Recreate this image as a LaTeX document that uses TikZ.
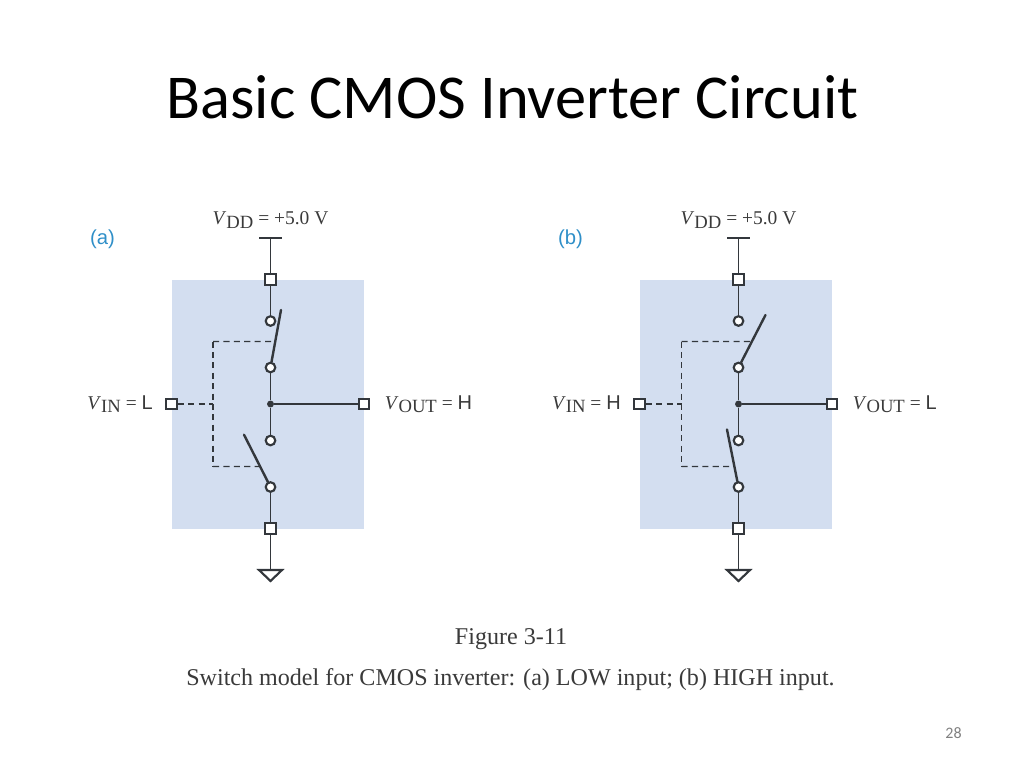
\documentclass[tikz,border=0pt]{standalone}
\usepackage{fontspec}
\setmainfont{Liberation Serif}
\newfontfamily\titlefont{Carlito}
\newfontfamily\labelsans{Liberation Sans}
\usetikzlibrary{calc}
\definecolor{panelblue}{HTML}{D3DEF0}
\definecolor{inkdark}{HTML}{33373C}
\definecolor{labelblue}{HTML}{2F8FC8}
\definecolor{textgrey}{HTML}{3A3A3A}
\tikzset{
  wire/.style={draw=inkdark,line width=1.45pt},
  blade/.style={draw=inkdark,line width=1.8pt,line cap=round},
  ctrl/.style={draw=inkdark,line width=1.05pt,dash pattern=on 4.6pt off 3.2pt},
  term/.style={draw=inkdark,fill=white,line width=1.7pt,rectangle,minimum size=7.8pt,inner sep=0pt},
  contact/.style={draw=inkdark,fill=white,line width=1.6pt,circle,minimum size=7.2pt,inner sep=0pt},
  junction/.style={fill=inkdark,circle,minimum size=5.2pt,inner sep=0pt},
  gnd/.style={draw=inkdark,fill=white,line width=1.6pt,line join=miter},
  lab/.style={text=textgrey,font=\fontsize{14.6}{16}\selectfont,inner sep=0pt},
}
\newcommand{\vsub}[2]{\textit{#1}\raisebox{-0.35ex}{\fontsize{14}{16}\selectfont #2}}
\newcommand{\panel}[9]{%
  % #1 prefix  #2 center x  #3 letter  #4 letter x  #5 Vin level #6 Vout level
  % #7 top blade tip  #8 bottom blade tip  #9 dash x
  \begin{scope}[shift={(#2,0)}]
    \fill[panelblue] (-99,279.5) rectangle (93.5,528.5);
    \node[text=labelblue,font=\labelsans\fontsize{15.2}{16}\selectfont,inner sep=0pt] (#1letter) at (#4,239.5) {(#3)};
    \node[lab,anchor=center] (#1vdd) at (0,220) {\vsub{V}{DD} = +5.0 V};
    \coordinate (#1barl) at (-11.5,238);
    \coordinate (#1barr) at (11.5,238);
    \coordinate (#1bar) at (0,238);
    \coordinate (#1gt) at (0,570);
    \coordinate (#1gl) at (-11.5,570);
    \coordinate (#1gr) at (11.5,570);
    \coordinate (#1gb) at (0,581);
    \coordinate (#1tip1) at (#7);
    \coordinate (#1tip2) at (#8);
    \coordinate (#1dk) at (#9,404);
    \coordinate (#1dt) at (#9,341.5);
    \coordinate (#1db) at (#9,466.5);
    \coordinate (#1dtr) at (60,341.5);
    \coordinate (#1dbr) at (60,466.5);
    \node[term] (#1tt) at (0,279.5) {};
    \node[term] (#1tb) at (0,528.5) {};
    \node[contact] (#1c1) at (0,321) {};
    \node[contact] (#1c2) at (0,367.5) {};
    \node[contact] (#1c3) at (0,440.5) {};
    \node[contact] (#1c4) at (0,487) {};
    \node[junction] (#1j) at (0,404) {};
    \node[term] (#1in) at (-99,404) {};
    \node[term] (#1out) at (93.5,404) {};
    \coordinate (#1bl1) at (intersection cs: first line={(#1dt)--(#1dtr)}, second line={(#1c2.center)--(#1tip1)});
    \coordinate (#1bl2) at (intersection cs: first line={(#1db)--(#1dbr)}, second line={(#1c4.center)--(#1tip2)});
    \draw[wire] (#1barl) -- (#1barr);
    \draw[wire] (#1bar) -- (#1tt);
    \draw[wire] (#1tt) -- (#1c1);
    \draw[wire] (#1c2) -- (#1j);
    \draw[wire] (#1j) -- (#1c3);
    \draw[wire] (#1c4) -- (#1tb);
    \draw[wire] (#1tb) -- (#1gt);
    \draw[wire] (#1j) -- (#1out);
    \draw[blade] (#1c2) -- (#1tip1);
    \draw[blade] (#1c4) -- (#1tip2);
    \draw[gnd] (#1gl) -- (#1gr) -- (#1gb) -- cycle;
    \draw[ctrl] (#1in) -- (#1dk);
    \draw[ctrl] (#1dt) -- (#1db);
    \draw[ctrl] (#1dt) -- (#1bl1);
    \draw[ctrl] (#1db) -- (#1bl2);
    \node[lab,anchor=east] (#1vin) at (-117.5,404.5) {\vsub{V}{IN} = {\labelsans\fontsize{15}{16}\selectfont #5}};
    \node[lab,anchor=west] (#1vout) at (114,404.5) {\vsub{V}{OUT} = {\labelsans\fontsize{15}{16}\selectfont #6}};
  \end{scope}}
\begin{document}
\begin{tikzpicture}[x=0.75pt,y=-0.75pt]
\useasboundingbox (0,0) rectangle (1024,768);
\node[font=\titlefont\fontsize{46.8}{52}\selectfont,text=black,inner sep=0pt] (title) at (512.5,97) {Basic CMOS Inverter Circuit};
\panel{a}{270.5}{a}{-168}{L}{H}{10.5,310}{-26.5,434.7}{-57.5}
\panel{b}{738.5}{b}{-168}{H}{L}{27,315}{-11.5,429.5}{-57}
\node[text=textgrey,font=\fontsize{18.05}{20}\selectfont,inner sep=0pt] (figno) at (511,639.5) {Figure 3-11};
\node[text=textgrey,font=\fontsize{18.05}{20}\selectfont,inner sep=0pt] (caption) at (510.5,679.5) {Switch model for CMOS inverter: (a) LOW input; (b) HIGH input.};
\node[text=gray,font=\titlefont\fontsize{12}{14}\selectfont,inner sep=0pt] (pagenum) at (953.5,733) {28};
\end{tikzpicture}
\end{document}
